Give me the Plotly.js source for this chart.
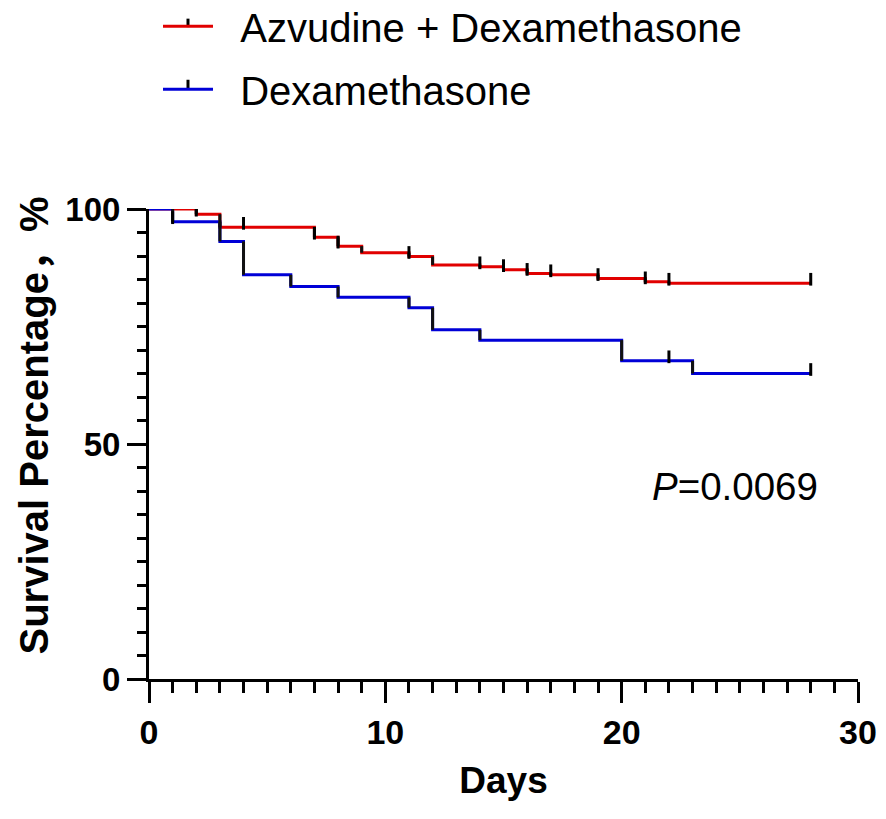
<!DOCTYPE html>
<html>
<head>
<meta charset="utf-8">
<script src="https://cdn.plot.ly/plotly-3.0.1.min.js"></script>
<style>html,body{margin:0;padding:0;background:#fff;}#chart{width:886px;height:819px;}</style>
</head>
<body>
<div id="chart"></div>
<script>
// Kaplan-Meier step data
const azvDays = [0, 2, 3, 7, 8, 9, 11, 12, 14, 15, 16, 17, 19, 21, 22, 28];
const azvSurv = [100, 98.9, 96.1, 94.0, 92.1, 90.7, 89.9, 88.1, 87.7, 87.1, 86.3, 86.0, 85.2, 84.5, 84.2, 84.2];
const azvCensor = [2, 4, 7, 8, 11, 14, 15, 16, 17, 19, 21, 22, 28];

const dexDays = [0, 1, 3, 4, 6, 8, 11, 12, 14, 20, 23, 28];
const dexSurv = [100, 97.3, 93.1, 86.0, 83.5, 81.2, 79.0, 74.3, 72.1, 67.7, 65.0, 65.0];
const dexCensor = [1, 22, 28];

const xTickVals = [0, 10, 20, 30];
const yTickVals = [0, 50, 100];
const seriesNames = ['Azvudine + Dexamethasone', 'Dexamethasone'];
const xTitle = 'Days';
const yTitle = 'Survival Percentage，%';
const pText = 'P=0.0069';

const RED = 'rgb(225,0,0)';
const BLUE = 'rgb(0,0,215)';
const FONT = 'Liberation Sans, Arial, Noto Sans CJK SC, sans-serif';

function survAt(days, surv, t) {
  let s = surv[0];
  for (let i = 0; i < days.length; i++) { if (days[i] <= t) s = surv[i]; }
  return s;
}
function verticals(days, surv) {
  const x = [], y = [];
  for (let i = 1; i < days.length; i++) {
    if (surv[i] !== surv[i - 1]) { x.push(days[i], days[i], null); y.push(surv[i - 1], surv[i], null); }
  }
  return {x, y};
}
function censorTicks(days, surv, times) {
  const x = [], y = [];
  times.forEach(t => { const s = survAt(days, surv, t); x.push(t, t, null); y.push(s - 0.5, s + 2.2, null); });
  return {x, y};
}

const va = verticals(azvDays, azvSurv), vd = verticals(dexDays, dexSurv);
const ca = censorTicks(azvDays, azvSurv, azvCensor), cd = censorTicks(dexDays, dexSurv, dexCensor);

const NB = '\u00A0\u00A0';
const traces = [
  {x: azvDays, y: azvSurv, mode: 'lines', line: {shape: 'hv', color: RED, width: 3}, name: NB + seriesNames[0], legendgroup: 'a'},
  {x: dexDays, y: dexSurv, mode: 'lines', line: {shape: 'hv', color: BLUE, width: 3}, name: NB + seriesNames[1], legendgroup: 'b'},
  {x: va.x, y: va.y, mode: 'lines', line: {color: '#111', width: 3}, showlegend: false, hoverinfo: 'skip'},
  {x: vd.x, y: vd.y, mode: 'lines', line: {color: '#111', width: 3}, showlegend: false, hoverinfo: 'skip'},
  {x: ca.x, y: ca.y, mode: 'lines', line: {color: '#000', width: 3}, showlegend: false, hoverinfo: 'skip'},
  {x: cd.x, y: cd.y, mode: 'lines', line: {color: '#000', width: 3}, showlegend: false, hoverinfo: 'skip'}
];

const layout = {
  width: 886, height: 819,
  margin: {l: 149, r: 28, t: 209, b: 140, autoexpand: false},
  paper_bgcolor: '#fff', plot_bgcolor: '#fff',
  font: {family: FONT, color: '#000'},
  showlegend: true,
  legend: {
    xref: 'paper', yref: 'paper', x: 0.0127, y: 1.458, xanchor: 'left', yanchor: 'top',
    font: {size: 40, family: FONT, color: '#000'}, itemwidth: 50, tracegroupgap: 8,
    bgcolor: 'rgba(0,0,0,0)'
  },
  xaxis: {
    range: [0, 30], tickvals: xTickVals, showgrid: false, zeroline: false, automargin: false,
    showline: true, linecolor: '#000', linewidth: 3,
    ticks: 'outside', ticklen: 21, tickwidth: 3, tickcolor: '#000',
    minor: {dtick: 1, ticklen: 11, tickwidth: 3, tickcolor: '#000', ticks: 'outside', showgrid: false},
    tickfont: {size: 34, family: FONT, weight: 'bold'},
    title: {text: xTitle, font: {size: 37, family: FONT, weight: 'bold'}, standoff: 18},
    fixedrange: true
  },
  yaxis: {
    range: [0, 100], tickvals: yTickVals, showgrid: false, zeroline: false, automargin: false,
    showline: true, linecolor: '#000', linewidth: 3,
    ticks: 'outside', ticklen: 19, tickwidth: 3, tickcolor: '#000',
    minor: {dtick: 5, ticklen: 9, tickwidth: 3, tickcolor: '#000', ticks: 'outside', showgrid: false},
    tickfont: {size: 33, family: FONT, weight: 'bold'},
    fixedrange: true
  },
  shapes: [
    {type: 'line', xref: 'paper', yref: 'paper', x0: 0.055, x1: 0.055, y0: 1.387, y1: 1.405, line: {color: '#000', width: 3}},
    {type: 'line', xref: 'paper', yref: 'paper', x0: 0.055, x1: 0.055, y0: 1.257, y1: 1.275, line: {color: '#000', width: 3}}
  ],
  annotations: [
    {xref: 'paper', yref: 'paper', x: -0.1615, y: 0.5404, xanchor: 'center', yanchor: 'middle', textangle: -90,
     showarrow: false, text: yTitle, font: {size: 40, family: FONT, weight: 'bold', color: '#000'}},
    {xref: 'x', yref: 'y', x: 28.4, y: 41, xanchor: 'right', yanchor: 'middle', showarrow: false,
     text: '<i>P</i>' + pText.slice(1), font: {size: 38.5, family: FONT, color: '#000'}}
  ]
};

Plotly.newPlot('chart', traces, layout, {displayModeBar: false, staticPlot: true});
</script>
</body>
</html>
